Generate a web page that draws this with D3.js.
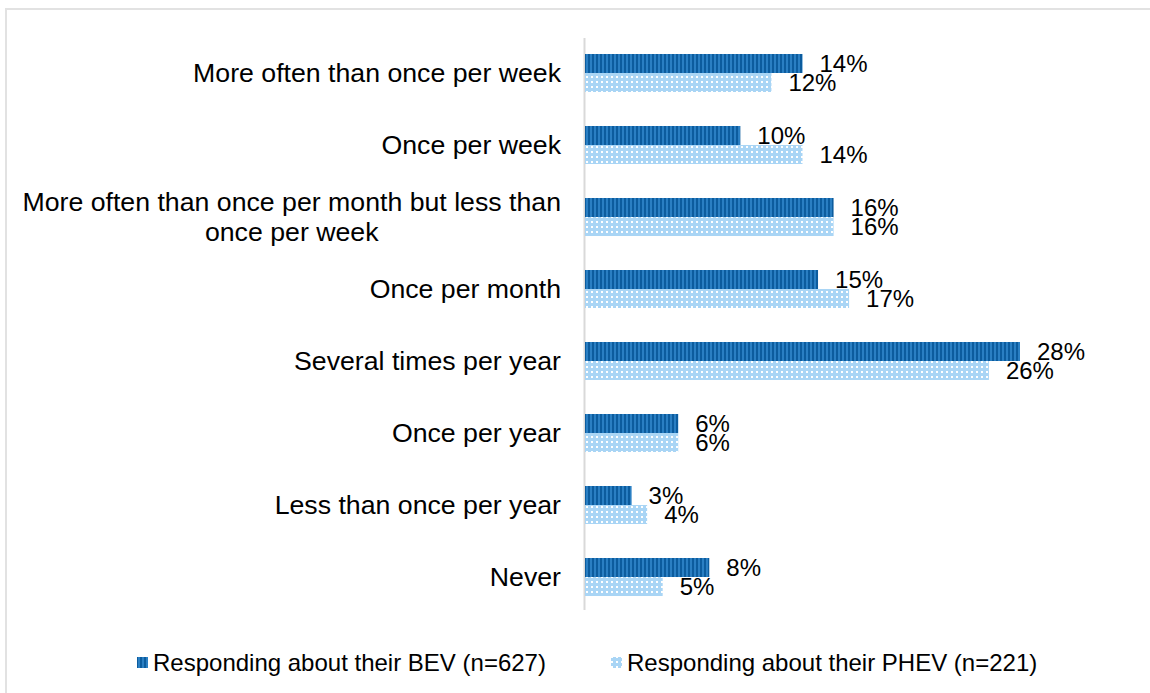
<!DOCTYPE html>
<html><head><meta charset="utf-8">
<script src="https://cdn.jsdelivr.net/npm/d3@7"></script>
<style>body{margin:0;background:#fff;}svg{display:block;font-family:"Liberation Sans",Arial,sans-serif;}</style>
</head><body>
<svg id="chart" width="1150" height="693"></svg>
<script>
const categories = [
  "More often than once per week",
  "Once per week",
  "More often than once per month but less than once per week",
  "Once per month",
  "Several times per year",
  "Once per year",
  "Less than once per year",
  "Never"
];
const categoryLines = [
  ["More often than once per week"],
  ["Once per week"],
  ["More often than once per month but less than", "once per week"],
  ["Once per month"],
  ["Several times per year"],
  ["Once per year"],
  ["Less than once per year"],
  ["Never"]
];
const bevValues = [14, 10, 16, 15, 28, 6, 3, 8];
const phevValues = [12, 14, 16, 17, 26, 6, 4, 5];
const seriesNames = ["Responding about their BEV (n=627)", "Responding about their PHEV (n=221)"];

const svg = d3.select("#chart");
const defs = svg.append("defs");
const pb = defs.append("pattern").attr("id","patBEV").attr("patternUnits","userSpaceOnUse").attr("width",4).attr("height",4);
pb.append("rect").attr("width",4).attr("height",4).attr("fill","#2a7fc3");
pb.append("rect").attr("width",2).attr("height",4).attr("fill","#0c5c9e");
const pp = defs.append("pattern").attr("id","patPHEV").attr("patternUnits","userSpaceOnUse").attr("width",5).attr("height",5);
pp.append("rect").attr("width",5).attr("height",5).attr("fill","#a9d5f5");
pp.append("rect").attr("x",1).attr("y",1).attr("width",2).attr("height",2).attr("fill","#ffffff");

// outer border
svg.append("rect").attr("x",6).attr("y",9).attr("width",1160).attr("height",700)
  .attr("fill","none").attr("stroke","#e2e2e2").attr("stroke-width",2);

const x0 = 585;
const x = d3.scaleLinear().domain([0, 28]).range([x0, x0 + 435]);
const y = d3.scaleBand().domain(categories).range([37, 613]).paddingInner(0.47).paddingOuter(0.235);
const bh = 19;

// axis line
svg.append("line").attr("x1",x0-0.5).attr("x2",x0-0.5).attr("y1",38).attr("y2",610)
  .attr("stroke","#d9d9d9").attr("stroke-width",2);

const g = svg.append("g");
const center = c => y(c) + y.bandwidth()/2;

g.selectAll(".bev").data(categories).join("rect")
  .attr("x", x0).attr("y", c => center(c) - bh)
  .attr("width", (c,i) => x(bevValues[i]) - x0).attr("height", bh)
  .attr("fill","url(#patBEV)");
g.selectAll(".phev").data(categories).join("rect")
  .attr("x", x0).attr("y", c => center(c))
  .attr("width", (c,i) => x(phevValues[i]) - x0).attr("height", bh)
  .attr("fill","url(#patPHEV)");

g.selectAll(".lb").data(categories).join("text")
  .attr("x", (c,i) => x(bevValues[i]) + 17).attr("y", c => center(c) - bh/2)
  .attr("dy","0.35em").attr("font-size",24).attr("fill","#000")
  .text((c,i) => bevValues[i] + "%");
g.selectAll(".lp").data(categories).join("text")
  .attr("x", (c,i) => x(phevValues[i]) + 17).attr("y", c => center(c) + bh/2)
  .attr("dy","0.35em").attr("font-size",24).attr("fill","#000")
  .text((c,i) => phevValues[i] + "%");

// category labels
const right = 561;
categories.forEach((c,i) => {
  const lines = categoryLines[i];
  const t = svg.append("text").attr("font-size",26.7).attr("fill","#000");
  const cy = center(c);
  const lh = 30;
  if (lines.length === 1) {
    t.attr("text-anchor","end").attr("x",right).attr("y",cy).attr("dy","0.35em").text(lines[0]);
  } else {
    t.attr("text-anchor","middle");
    const spans = lines.map((ln,k) => t.append("tspan").attr("y", cy + (k - (lines.length-1)/2)*lh).attr("dy","0.35em").text(ln));
    const w = d3.max(spans, s => s.node().getComputedTextLength());
    spans.forEach(s => s.attr("x", right - w/2));
  }
});

// legend
const leg = [{x:137, fill:"url(#patBEV)", name:seriesNames[0]}, {x:611, fill:"url(#patPHEV)", name:seriesNames[1]}];
leg.forEach(l => {
  svg.append("rect").attr("x",l.x).attr("y",657).attr("width",11).attr("height",11).attr("fill",l.fill);
  svg.append("text").attr("x",l.x+16).attr("y",663).attr("dy","0.35em").attr("font-size",24).attr("fill","#000").text(l.name);
});
</script>
</body></html>
